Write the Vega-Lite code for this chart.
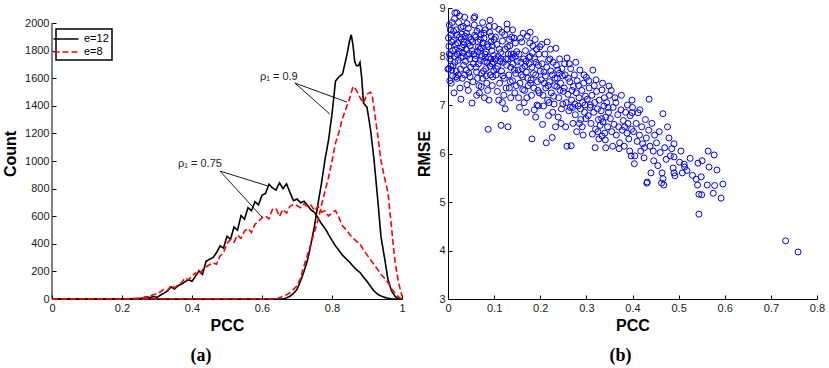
{
"$schema": "https://vega.github.io/schema/vega-lite/v6.json",
"background": "white",
"padding": {"left": 2, "top": 2, "right": 2, "bottom": 2},
"spacing": 10,
"config": {
  "view": {"stroke": null},
  "font": "Liberation Sans",
  "axis": {"grid": false, "domainColor": "#000", "domainWidth": 1, "tickColor": "#000", "tickSize": -4, "labelPadding": 7, "labelFontSize": 11, "labelColor": "#1a1a1a", "labelFont": "Liberation Sans", "titleFont": "Liberation Sans", "titleFontSize": 16, "titleFontWeight": "bold", "titleColor": "#000", "labelFlush": false, "labelOverlap": false},
  "axisY": {"titlePadding": 6},
  "axisX": {"titlePadding": 4},
  "title": {"font": "Liberation Serif", "fontSize": 18, "fontWeight": "bold", "color": "#000", "orient": "bottom", "offset": 14},
  "legend": {"orient": "none", "legendX": 4, "legendY": 21, "title": null, "strokeColor": "#000", "strokeWidth": 1.5, "padding": 3, "symbolType": "M-2,0H2", "symbolSize": 156, "symbolStrokeWidth": 1.5, "labelOffset": 11, "labelFontSize": 11, "labelFont": "Liberation Sans", "labelColor": "#000", "rowPadding": 1}
},
"hconcat": [
{
  "width": 350, "height": 291,
  "title": {"text": "(a)", "dx": -26},
  "encoding": {
    "x": {"field": "pcc", "type": "quantitative", "title": "PCC", "scale": {"domain": [0, 1], "nice": false}, "axis": {"values": [0, 0.2, 0.4, 0.6, 0.8, 1], "format": "~g", "labelOverlap": false}},
    "y": {"field": "count", "type": "quantitative", "title": "Count", "scale": {"domain": [0, 2109], "nice": false}, "axis": {"values": [0, 200, 400, 600, 800, 1000, 1200, 1400, 1600, 1800, 2000], "format": "d", "domain": false, "labelOverlap": false}}
  },
  "layer": [
    {
      "data": {"values": [
{"pcc":0,"count":0,"e":"e=12","rho":"0.75"},{"pcc":0.24,"count":0,"e":"e=12","rho":"0.75"},{"pcc":0.25,"count":3,"e":"e=12","rho":"0.75"},{"pcc":0.26,"count":8,"e":"e=12","rho":"0.75"},{"pcc":0.27,"count":16,"e":"e=12","rho":"0.75"},{"pcc":0.28,"count":10,"e":"e=12","rho":"0.75"},{"pcc":0.29,"count":18,"e":"e=12","rho":"0.75"},{"pcc":0.30,"count":12,"e":"e=12","rho":"0.75"},{"pcc":0.31,"count":28,"e":"e=12","rho":"0.75"},{"pcc":0.32,"count":42,"e":"e=12","rho":"0.75"},{"pcc":0.33,"count":58,"e":"e=12","rho":"0.75"},{"pcc":0.34,"count":88,"e":"e=12","rho":"0.75"},{"pcc":0.35,"count":72,"e":"e=12","rho":"0.75"},{"pcc":0.36,"count":96,"e":"e=12","rho":"0.75"},{"pcc":0.37,"count":108,"e":"e=12","rho":"0.75"},{"pcc":0.38,"count":125,"e":"e=12","rho":"0.75"},{"pcc":0.39,"count":140,"e":"e=12","rho":"0.75"},{"pcc":0.40,"count":128,"e":"e=12","rho":"0.75"},{"pcc":0.41,"count":165,"e":"e=12","rho":"0.75"},{"pcc":0.42,"count":205,"e":"e=12","rho":"0.75"},{"pcc":0.43,"count":178,"e":"e=12","rho":"0.75"},{"pcc":0.44,"count":272,"e":"e=12","rho":"0.75"},{"pcc":0.45,"count":288,"e":"e=12","rho":"0.75"},{"pcc":0.46,"count":300,"e":"e=12","rho":"0.75"},{"pcc":0.47,"count":335,"e":"e=12","rho":"0.75"},{"pcc":0.48,"count":385,"e":"e=12","rho":"0.75"},{"pcc":0.49,"count":368,"e":"e=12","rho":"0.75"},{"pcc":0.50,"count":455,"e":"e=12","rho":"0.75"},{"pcc":0.51,"count":432,"e":"e=12","rho":"0.75"},{"pcc":0.52,"count":522,"e":"e=12","rho":"0.75"},{"pcc":0.53,"count":498,"e":"e=12","rho":"0.75"},{"pcc":0.54,"count":605,"e":"e=12","rho":"0.75"},{"pcc":0.55,"count":578,"e":"e=12","rho":"0.75"},{"pcc":0.56,"count":662,"e":"e=12","rho":"0.75"},{"pcc":0.57,"count":640,"e":"e=12","rho":"0.75"},{"pcc":0.58,"count":705,"e":"e=12","rho":"0.75"},{"pcc":0.59,"count":682,"e":"e=12","rho":"0.75"},{"pcc":0.60,"count":752,"e":"e=12","rho":"0.75"},{"pcc":0.61,"count":765,"e":"e=12","rho":"0.75"},{"pcc":0.62,"count":832,"e":"e=12","rho":"0.75"},{"pcc":0.63,"count":805,"e":"e=12","rho":"0.75"},{"pcc":0.64,"count":790,"e":"e=12","rho":"0.75"},{"pcc":0.65,"count":842,"e":"e=12","rho":"0.75"},{"pcc":0.66,"count":800,"e":"e=12","rho":"0.75"},{"pcc":0.67,"count":835,"e":"e=12","rho":"0.75"},{"pcc":0.68,"count":772,"e":"e=12","rho":"0.75"},{"pcc":0.69,"count":712,"e":"e=12","rho":"0.75"},{"pcc":0.70,"count":725,"e":"e=12","rho":"0.75"},{"pcc":0.71,"count":698,"e":"e=12","rho":"0.75"},{"pcc":0.72,"count":708,"e":"e=12","rho":"0.75"},{"pcc":0.73,"count":680,"e":"e=12","rho":"0.75"},{"pcc":0.74,"count":645,"e":"e=12","rho":"0.75"},{"pcc":0.75,"count":628,"e":"e=12","rho":"0.75"},{"pcc":0.76,"count":588,"e":"e=12","rho":"0.75"},{"pcc":0.77,"count":545,"e":"e=12","rho":"0.75"},{"pcc":0.78,"count":512,"e":"e=12","rho":"0.75"},{"pcc":0.79,"count":468,"e":"e=12","rho":"0.75"},{"pcc":0.80,"count":425,"e":"e=12","rho":"0.75"},{"pcc":0.81,"count":385,"e":"e=12","rho":"0.75"},{"pcc":0.82,"count":352,"e":"e=12","rho":"0.75"},{"pcc":0.83,"count":318,"e":"e=12","rho":"0.75"},{"pcc":0.84,"count":292,"e":"e=12","rho":"0.75"},{"pcc":0.85,"count":268,"e":"e=12","rho":"0.75"},{"pcc":0.86,"count":238,"e":"e=12","rho":"0.75"},{"pcc":0.87,"count":212,"e":"e=12","rho":"0.75"},{"pcc":0.88,"count":192,"e":"e=12","rho":"0.75"},{"pcc":0.89,"count":158,"e":"e=12","rho":"0.75"},{"pcc":0.90,"count":128,"e":"e=12","rho":"0.75"},{"pcc":0.91,"count":92,"e":"e=12","rho":"0.75"},{"pcc":0.92,"count":58,"e":"e=12","rho":"0.75"},{"pcc":0.93,"count":36,"e":"e=12","rho":"0.75"},{"pcc":0.94,"count":22,"e":"e=12","rho":"0.75"},{"pcc":0.95,"count":12,"e":"e=12","rho":"0.75"},{"pcc":0.96,"count":5,"e":"e=12","rho":"0.75"},{"pcc":0.97,"count":0,"e":"e=12","rho":"0.75"},{"pcc":1.0,"count":0,"e":"e=12","rho":"0.75"},
{"pcc":0,"count":0,"e":"e=12","rho":"0.9"},{"pcc":0.66,"count":0,"e":"e=12","rho":"0.9"},{"pcc":0.67,"count":8,"e":"e=12","rho":"0.9"},{"pcc":0.68,"count":20,"e":"e=12","rho":"0.9"},{"pcc":0.69,"count":40,"e":"e=12","rho":"0.9"},{"pcc":0.70,"count":70,"e":"e=12","rho":"0.9"},{"pcc":0.71,"count":130,"e":"e=12","rho":"0.9"},{"pcc":0.72,"count":200,"e":"e=12","rho":"0.9"},{"pcc":0.73,"count":280,"e":"e=12","rho":"0.9"},{"pcc":0.74,"count":400,"e":"e=12","rho":"0.9"},{"pcc":0.75,"count":530,"e":"e=12","rho":"0.9"},{"pcc":0.76,"count":690,"e":"e=12","rho":"0.9"},{"pcc":0.77,"count":840,"e":"e=12","rho":"0.9"},{"pcc":0.78,"count":1010,"e":"e=12","rho":"0.9"},{"pcc":0.79,"count":1150,"e":"e=12","rho":"0.9"},{"pcc":0.80,"count":1340,"e":"e=12","rho":"0.9"},{"pcc":0.81,"count":1580,"e":"e=12","rho":"0.9"},{"pcc":0.82,"count":1610,"e":"e=12","rho":"0.9"},{"pcc":0.83,"count":1630,"e":"e=12","rho":"0.9"},{"pcc":0.84,"count":1740,"e":"e=12","rho":"0.9"},{"pcc":0.845,"count":1800,"e":"e=12","rho":"0.9"},{"pcc":0.85,"count":1870,"e":"e=12","rho":"0.9"},{"pcc":0.855,"count":1915,"e":"e=12","rho":"0.9"},{"pcc":0.86,"count":1840,"e":"e=12","rho":"0.9"},{"pcc":0.865,"count":1720,"e":"e=12","rho":"0.9"},{"pcc":0.87,"count":1690,"e":"e=12","rho":"0.9"},{"pcc":0.875,"count":1690,"e":"e=12","rho":"0.9"},{"pcc":0.88,"count":1715,"e":"e=12","rho":"0.9"},{"pcc":0.885,"count":1600,"e":"e=12","rho":"0.9"},{"pcc":0.89,"count":1420,"e":"e=12","rho":"0.9"},{"pcc":0.90,"count":1390,"e":"e=12","rho":"0.9"},{"pcc":0.91,"count":1230,"e":"e=12","rho":"0.9"},{"pcc":0.92,"count":1010,"e":"e=12","rho":"0.9"},{"pcc":0.93,"count":740,"e":"e=12","rho":"0.9"},{"pcc":0.94,"count":450,"e":"e=12","rho":"0.9"},{"pcc":0.95,"count":300,"e":"e=12","rho":"0.9"},{"pcc":0.96,"count":140,"e":"e=12","rho":"0.9"},{"pcc":0.97,"count":60,"e":"e=12","rho":"0.9"},{"pcc":0.98,"count":20,"e":"e=12","rho":"0.9"},{"pcc":0.99,"count":0,"e":"e=12","rho":"0.9"},{"pcc":1.0,"count":0,"e":"e=12","rho":"0.9"},
{"pcc":0,"count":0,"e":"e=8","rho":"0.75"},{"pcc":0.20,"count":0,"e":"e=8","rho":"0.75"},{"pcc":0.22,"count":3,"e":"e=8","rho":"0.75"},{"pcc":0.23,"count":6,"e":"e=8","rho":"0.75"},{"pcc":0.24,"count":4,"e":"e=8","rho":"0.75"},{"pcc":0.25,"count":10,"e":"e=8","rho":"0.75"},{"pcc":0.26,"count":8,"e":"e=8","rho":"0.75"},{"pcc":0.27,"count":16,"e":"e=8","rho":"0.75"},{"pcc":0.28,"count":22,"e":"e=8","rho":"0.75"},{"pcc":0.29,"count":30,"e":"e=8","rho":"0.75"},{"pcc":0.30,"count":38,"e":"e=8","rho":"0.75"},{"pcc":0.31,"count":52,"e":"e=8","rho":"0.75"},{"pcc":0.32,"count":72,"e":"e=8","rho":"0.75"},{"pcc":0.33,"count":62,"e":"e=8","rho":"0.75"},{"pcc":0.34,"count":98,"e":"e=8","rho":"0.75"},{"pcc":0.35,"count":82,"e":"e=8","rho":"0.75"},{"pcc":0.36,"count":102,"e":"e=8","rho":"0.75"},{"pcc":0.37,"count":118,"e":"e=8","rho":"0.75"},{"pcc":0.38,"count":152,"e":"e=8","rho":"0.75"},{"pcc":0.39,"count":140,"e":"e=8","rho":"0.75"},{"pcc":0.40,"count":168,"e":"e=8","rho":"0.75"},{"pcc":0.41,"count":188,"e":"e=8","rho":"0.75"},{"pcc":0.42,"count":172,"e":"e=8","rho":"0.75"},{"pcc":0.43,"count":212,"e":"e=8","rho":"0.75"},{"pcc":0.44,"count":232,"e":"e=8","rho":"0.75"},{"pcc":0.45,"count":248,"e":"e=8","rho":"0.75"},{"pcc":0.46,"count":262,"e":"e=8","rho":"0.75"},{"pcc":0.47,"count":252,"e":"e=8","rho":"0.75"},{"pcc":0.48,"count":312,"e":"e=8","rho":"0.75"},{"pcc":0.49,"count":335,"e":"e=8","rho":"0.75"},{"pcc":0.50,"count":402,"e":"e=8","rho":"0.75"},{"pcc":0.51,"count":432,"e":"e=8","rho":"0.75"},{"pcc":0.52,"count":412,"e":"e=8","rho":"0.75"},{"pcc":0.53,"count":462,"e":"e=8","rho":"0.75"},{"pcc":0.54,"count":440,"e":"e=8","rho":"0.75"},{"pcc":0.55,"count":492,"e":"e=8","rho":"0.75"},{"pcc":0.56,"count":512,"e":"e=8","rho":"0.75"},{"pcc":0.57,"count":482,"e":"e=8","rho":"0.75"},{"pcc":0.58,"count":542,"e":"e=8","rho":"0.75"},{"pcc":0.59,"count":562,"e":"e=8","rho":"0.75"},{"pcc":0.60,"count":590,"e":"e=8","rho":"0.75"},{"pcc":0.61,"count":602,"e":"e=8","rho":"0.75"},{"pcc":0.62,"count":580,"e":"e=8","rho":"0.75"},{"pcc":0.63,"count":650,"e":"e=8","rho":"0.75"},{"pcc":0.64,"count":655,"e":"e=8","rho":"0.75"},{"pcc":0.65,"count":598,"e":"e=8","rho":"0.75"},{"pcc":0.66,"count":650,"e":"e=8","rho":"0.75"},{"pcc":0.67,"count":622,"e":"e=8","rho":"0.75"},{"pcc":0.68,"count":672,"e":"e=8","rho":"0.75"},{"pcc":0.69,"count":685,"e":"e=8","rho":"0.75"},{"pcc":0.70,"count":678,"e":"e=8","rho":"0.75"},{"pcc":0.71,"count":662,"e":"e=8","rho":"0.75"},{"pcc":0.72,"count":690,"e":"e=8","rho":"0.75"},{"pcc":0.73,"count":668,"e":"e=8","rho":"0.75"},{"pcc":0.74,"count":680,"e":"e=8","rho":"0.75"},{"pcc":0.75,"count":640,"e":"e=8","rho":"0.75"},{"pcc":0.76,"count":672,"e":"e=8","rho":"0.75"},{"pcc":0.77,"count":630,"e":"e=8","rho":"0.75"},{"pcc":0.78,"count":638,"e":"e=8","rho":"0.75"},{"pcc":0.79,"count":602,"e":"e=8","rho":"0.75"},{"pcc":0.80,"count":625,"e":"e=8","rho":"0.75"},{"pcc":0.81,"count":640,"e":"e=8","rho":"0.75"},{"pcc":0.82,"count":590,"e":"e=8","rho":"0.75"},{"pcc":0.83,"count":530,"e":"e=8","rho":"0.75"},{"pcc":0.84,"count":505,"e":"e=8","rho":"0.75"},{"pcc":0.85,"count":470,"e":"e=8","rho":"0.75"},{"pcc":0.86,"count":440,"e":"e=8","rho":"0.75"},{"pcc":0.87,"count":418,"e":"e=8","rho":"0.75"},{"pcc":0.88,"count":400,"e":"e=8","rho":"0.75"},{"pcc":0.89,"count":355,"e":"e=8","rho":"0.75"},{"pcc":0.90,"count":320,"e":"e=8","rho":"0.75"},{"pcc":0.91,"count":285,"e":"e=8","rho":"0.75"},{"pcc":0.92,"count":250,"e":"e=8","rho":"0.75"},{"pcc":0.93,"count":215,"e":"e=8","rho":"0.75"},{"pcc":0.94,"count":180,"e":"e=8","rho":"0.75"},{"pcc":0.95,"count":150,"e":"e=8","rho":"0.75"},{"pcc":0.96,"count":120,"e":"e=8","rho":"0.75"},{"pcc":0.97,"count":75,"e":"e=8","rho":"0.75"},{"pcc":0.98,"count":40,"e":"e=8","rho":"0.75"},{"pcc":0.99,"count":15,"e":"e=8","rho":"0.75"},{"pcc":1.0,"count":0,"e":"e=8","rho":"0.75"},
{"pcc":0,"count":0,"e":"e=8","rho":"0.9"},{"pcc":0.64,"count":0,"e":"e=8","rho":"0.9"},{"pcc":0.65,"count":10,"e":"e=8","rho":"0.9"},{"pcc":0.66,"count":20,"e":"e=8","rho":"0.9"},{"pcc":0.67,"count":30,"e":"e=8","rho":"0.9"},{"pcc":0.68,"count":45,"e":"e=8","rho":"0.9"},{"pcc":0.69,"count":70,"e":"e=8","rho":"0.9"},{"pcc":0.70,"count":95,"e":"e=8","rho":"0.9"},{"pcc":0.71,"count":150,"e":"e=8","rho":"0.9"},{"pcc":0.72,"count":240,"e":"e=8","rho":"0.9"},{"pcc":0.73,"count":320,"e":"e=8","rho":"0.9"},{"pcc":0.74,"count":400,"e":"e=8","rho":"0.9"},{"pcc":0.75,"count":490,"e":"e=8","rho":"0.9"},{"pcc":0.76,"count":570,"e":"e=8","rho":"0.9"},{"pcc":0.77,"count":680,"e":"e=8","rho":"0.9"},{"pcc":0.78,"count":780,"e":"e=8","rho":"0.9"},{"pcc":0.79,"count":880,"e":"e=8","rho":"0.9"},{"pcc":0.80,"count":1000,"e":"e=8","rho":"0.9"},{"pcc":0.81,"count":1130,"e":"e=8","rho":"0.9"},{"pcc":0.82,"count":1210,"e":"e=8","rho":"0.9"},{"pcc":0.83,"count":1310,"e":"e=8","rho":"0.9"},{"pcc":0.84,"count":1380,"e":"e=8","rho":"0.9"},{"pcc":0.85,"count":1450,"e":"e=8","rho":"0.9"},{"pcc":0.86,"count":1540,"e":"e=8","rho":"0.9"},{"pcc":0.865,"count":1530,"e":"e=8","rho":"0.9"},{"pcc":0.87,"count":1510,"e":"e=8","rho":"0.9"},{"pcc":0.88,"count":1460,"e":"e=8","rho":"0.9"},{"pcc":0.89,"count":1420,"e":"e=8","rho":"0.9"},{"pcc":0.90,"count":1485,"e":"e=8","rho":"0.9"},{"pcc":0.91,"count":1500,"e":"e=8","rho":"0.9"},{"pcc":0.915,"count":1470,"e":"e=8","rho":"0.9"},{"pcc":0.92,"count":1380,"e":"e=8","rho":"0.9"},{"pcc":0.93,"count":1200,"e":"e=8","rho":"0.9"},{"pcc":0.94,"count":1000,"e":"e=8","rho":"0.9"},{"pcc":0.95,"count":880,"e":"e=8","rho":"0.9"},{"pcc":0.96,"count":770,"e":"e=8","rho":"0.9"},{"pcc":0.97,"count":520,"e":"e=8","rho":"0.9"},{"pcc":0.98,"count":270,"e":"e=8","rho":"0.9"},{"pcc":0.99,"count":120,"e":"e=8","rho":"0.9"},{"pcc":1.0,"count":20,"e":"e=8","rho":"0.9"}
      ]},
      "mark": {"type": "line", "strokeWidth": 1.6, "strokeCap": "butt"},
      "encoding": {
        "color": {"field": "e", "type": "nominal", "scale": {"domain": ["e=12", "e=8"], "range": ["#000000", "#ff0000"]}},
        "strokeDash": {"field": "e", "type": "nominal", "scale": {"domain": ["e=12", "e=8"], "range": [[1, 0], [6, 3]]}},
        "detail": {"field": "rho"}
      }
    },
    {
      "data": {"values": [{"pcc": 0, "count": 0, "count2": 2000}]},
      "mark": {"type": "rule", "color": "#000", "strokeWidth": 1},
      "encoding": {
        "y2": {"field": "count2"}
      }
    },
    {
      "data": {"values": [
        {"pcc": 0.694, "count": 1565, "pcc2": 0.843, "count2": 1427},
        {"pcc": 0.694, "count": 1565, "pcc2": 0.794, "count2": 1340},
        {"pcc": 0.48, "count": 927, "pcc2": 0.617, "count2": 819},
        {"pcc": 0.48, "count": 927, "pcc2": 0.60, "count2": 594}
      ]},
      "mark": {"type": "rule", "color": "#000", "strokeWidth": 0.9},
      "encoding": {
        "x2": {"field": "pcc2"},
        "y2": {"field": "count2"}
      }
    },
    {
      "data": {"values": [
        {"pcc": 0.594, "count": 1590, "label": "ρ₁ = 0.9"},
        {"pcc": 0.36, "count": 960, "label": "ρ₁ = 0.75"}
      ]},
      "mark": {"type": "text", "align": "left", "baseline": "alphabetic", "fontSize": 11, "font": "Liberation Sans", "color": "#222"},
      "encoding": {
        "text": {"field": "label"}
      }
    }
  ]
},
{
  "width": 369, "height": 291,
  "title": {"text": "(b)", "dx": -12},
  "data": {"values": [
{"pcc":0.002,"rmse":8.21},{"pcc":0.004,"rmse":7.95},{"pcc":0.006,"rmse":8.45},{"pcc":0.003,"rmse":8.65},{"pcc":0.008,"rmse":7.72},{"pcc":0.010,"rmse":8.12},{"pcc":0.012,"rmse":8.33},{"pcc":0.005,"rmse":8.02},{"pcc":0.015,"rmse":7.88},{"pcc":0.018,"rmse":8.55},{"pcc":0.014,"rmse":8.78},{"pcc":0.020,"rmse":8.05},{"pcc":0.022,"rmse":7.62},{"pcc":0.016,"rmse":8.25},{"pcc":0.025,"rmse":8.40},{"pcc":0.028,"rmse":7.98},{"pcc":0.007,"rmse":7.45},{"pcc":0.011,"rmse":7.81},{"pcc":0.030,"rmse":8.18},{"pcc":0.033,"rmse":8.62},{"pcc":0.001,"rmse":8.38},{"pcc":0.019,"rmse":8.90},{"pcc":0.024,"rmse":8.11},{"pcc":0.027,"rmse":7.74},{"pcc":0.035,"rmse":8.30},{"pcc":0.038,"rmse":7.90},{"pcc":0.040,"rmse":8.48},{"pcc":0.042,"rmse":8.02},{"pcc":0.045,"rmse":7.66},{"pcc":0.048,"rmse":8.22},{"pcc":0.036,"rmse":8.81},{"pcc":0.031,"rmse":7.55},{"pcc":0.013,"rmse":7.25},{"pcc":0.009,"rmse":8.70},{"pcc":0.017,"rmse":7.58},{"pcc":0.023,"rmse":8.70},{"pcc":0.029,"rmse":8.36},{"pcc":0.034,"rmse":7.82},{"pcc":0.044,"rmse":8.58},{"pcc":0.047,"rmse":7.95},{"pcc":0.050,"rmse":8.35},{"pcc":0.041,"rmse":7.42},{"pcc":0.039,"rmse":8.15},{"pcc":0.026,"rmse":7.35},{"pcc":0.021,"rmse":8.28},{"pcc":0.006,"rmse":7.80},{"pcc":0.003,"rmse":8.05},{"pcc":0.012,"rmse":8.52},{"pcc":0.018,"rmse":7.70},{"pcc":0.032,"rmse":8.08},{"pcc":0.043,"rmse":8.27},{"pcc":0.049,"rmse":7.78},{"pcc":0.037,"rmse":8.42},{"pcc":0.028,"rmse":8.60},{"pcc":0.016,"rmse":8.14},{"pcc":0.008,"rmse":8.30},{"pcc":0.002,"rmse":7.75},{"pcc":0.046,"rmse":8.06},{"pcc":0.034,"rmse":8.24},{"pcc":0.022,"rmse":7.92},{"pcc":0.014,"rmse":8.00},{"pcc":0.010,"rmse":7.60},{"pcc":0.025,"rmse":8.84},{"pcc":0.040,"rmse":7.72},{"pcc":0.030,"rmse":8.46},{"pcc":0.045,"rmse":8.40},{"pcc":0.048,"rmse":7.58},{"pcc":0.005,"rmse":8.55},{"pcc":0.020,"rmse":8.45},{"pcc":0.036,"rmse":7.62},{"pcc":0.028,"rmse":7.12},{"pcc":0.052,"rmse":7.04},{"pcc":0.000,"rmse":7.74},{"pcc":0.020,"rmse":7.55},{"pcc":0.056,"rmse":8.79},{"pcc":0.015,"rmse":8.90},{"pcc":0.044,"rmse":7.30},{"pcc":0.004,"rmse":7.50},{"pcc":0.033,"rmse":8.00},{"pcc":0.041,"rmse":8.68},
{"pcc":0.052,"rmse":8.12},{"pcc":0.055,"rmse":7.85},{"pcc":0.058,"rmse":8.44},{"pcc":0.060,"rmse":8.02},{"pcc":0.062,"rmse":7.68},{"pcc":0.065,"rmse":8.30},{"pcc":0.068,"rmse":8.58},{"pcc":0.070,"rmse":7.92},{"pcc":0.072,"rmse":8.18},{"pcc":0.075,"rmse":7.55},{"pcc":0.078,"rmse":8.38},{"pcc":0.080,"rmse":8.05},{"pcc":0.082,"rmse":7.75},{"pcc":0.085,"rmse":8.25},{"pcc":0.088,"rmse":7.98},{"pcc":0.090,"rmse":8.50},{"pcc":0.092,"rmse":7.62},{"pcc":0.095,"rmse":8.12},{"pcc":0.098,"rmse":7.88},{"pcc":0.100,"rmse":8.35},{"pcc":0.054,"rmse":7.48},{"pcc":0.057,"rmse":8.65},{"pcc":0.061,"rmse":7.78},{"pcc":0.064,"rmse":8.10},{"pcc":0.067,"rmse":7.40},{"pcc":0.071,"rmse":8.45},{"pcc":0.074,"rmse":8.00},{"pcc":0.077,"rmse":7.70},{"pcc":0.081,"rmse":8.55},{"pcc":0.084,"rmse":7.45},{"pcc":0.087,"rmse":8.20},{"pcc":0.091,"rmse":7.80},{"pcc":0.094,"rmse":8.42},{"pcc":0.097,"rmse":7.58},{"pcc":0.099,"rmse":8.02},{"pcc":0.053,"rmse":8.30},{"pcc":0.059,"rmse":7.95},{"pcc":0.063,"rmse":8.52},{"pcc":0.066,"rmse":7.85},{"pcc":0.069,"rmse":8.15},{"pcc":0.073,"rmse":7.65},{"pcc":0.076,"rmse":8.28},{"pcc":0.079,"rmse":7.90},{"pcc":0.083,"rmse":8.10},{"pcc":0.086,"rmse":7.30},{"pcc":0.089,"rmse":8.62},{"pcc":0.093,"rmse":7.95},{"pcc":0.096,"rmse":8.22},{"pcc":0.087,"rmse":6.50},{"pcc":0.079,"rmse":7.15},{"pcc":0.068,"rmse":7.25},{"pcc":0.058,"rmse":8.82},{"pcc":0.091,"rmse":8.75},{"pcc":0.062,"rmse":7.20},{"pcc":0.075,"rmse":8.70},{"pcc":0.083,"rmse":7.60},{"pcc":0.096,"rmse":7.40},{"pcc":0.056,"rmse":8.05},{"pcc":0.070,"rmse":8.35},{"pcc":0.085,"rmse":7.88},{"pcc":0.099,"rmse":7.70},{"pcc":0.064,"rmse":7.55},{"pcc":0.078,"rmse":8.48},{"pcc":0.093,"rmse":8.30},{"pcc":0.072,"rmse":7.38},{"pcc":0.089,"rmse":7.10},{"pcc":0.060,"rmse":8.40},{"pcc":0.081,"rmse":7.98},{"pcc":0.066,"rmse":8.20},{"pcc":0.095,"rmse":7.85},
{"pcc":0.102,"rmse":7.95},{"pcc":0.104,"rmse":7.62},{"pcc":0.106,"rmse":8.25},{"pcc":0.108,"rmse":7.80},{"pcc":0.110,"rmse":8.56},{"pcc":0.112,"rmse":7.45},{"pcc":0.114,"rmse":8.08},{"pcc":0.116,"rmse":7.70},{"pcc":0.118,"rmse":8.32},{"pcc":0.120,"rmse":7.88},{"pcc":0.122,"rmse":7.55},{"pcc":0.124,"rmse":8.15},{"pcc":0.126,"rmse":7.35},{"pcc":0.128,"rmse":8.67},{"pcc":0.130,"rmse":7.95},{"pcc":0.132,"rmse":7.62},{"pcc":0.134,"rmse":8.22},{"pcc":0.136,"rmse":7.78},{"pcc":0.138,"rmse":8.40},{"pcc":0.140,"rmse":7.50},{"pcc":0.142,"rmse":8.05},{"pcc":0.144,"rmse":7.72},{"pcc":0.146,"rmse":8.28},{"pcc":0.148,"rmse":7.40},{"pcc":0.150,"rmse":7.90},{"pcc":0.103,"rmse":8.40},{"pcc":0.107,"rmse":7.28},{"pcc":0.111,"rmse":8.15},{"pcc":0.115,"rmse":7.95},{"pcc":0.119,"rmse":7.60},{"pcc":0.123,"rmse":8.45},{"pcc":0.127,"rmse":7.82},{"pcc":0.131,"rmse":8.05},{"pcc":0.135,"rmse":7.48},{"pcc":0.139,"rmse":7.98},{"pcc":0.143,"rmse":8.38},{"pcc":0.147,"rmse":7.65},{"pcc":0.105,"rmse":7.75},{"pcc":0.109,"rmse":8.00},{"pcc":0.113,"rmse":7.90},{"pcc":0.117,"rmse":8.50},{"pcc":0.121,"rmse":7.20},{"pcc":0.125,"rmse":7.95},{"pcc":0.129,"rmse":8.20},{"pcc":0.133,"rmse":7.35},{"pcc":0.137,"rmse":8.05},{"pcc":0.141,"rmse":7.85},{"pcc":0.145,"rmse":7.25},{"pcc":0.149,"rmse":8.10},{"pcc":0.115,"rmse":6.58},{"pcc":0.130,"rmse":6.55},{"pcc":0.118,"rmse":7.05},{"pcc":0.128,"rmse":8.56},{"pcc":0.110,"rmse":7.10},{"pcc":0.140,"rmse":8.55},{"pcc":0.124,"rmse":6.92},{"pcc":0.136,"rmse":7.15},{"pcc":0.146,"rmse":8.00},{"pcc":0.101,"rmse":8.62},{"pcc":0.133,"rmse":8.35},
{"pcc":0.152,"rmse":7.72},{"pcc":0.154,"rmse":8.05},{"pcc":0.156,"rmse":7.45},{"pcc":0.158,"rmse":7.88},{"pcc":0.160,"rmse":8.30},{"pcc":0.162,"rmse":7.58},{"pcc":0.164,"rmse":7.95},{"pcc":0.166,"rmse":7.30},{"pcc":0.168,"rmse":8.12},{"pcc":0.170,"rmse":7.68},{"pcc":0.172,"rmse":8.42},{"pcc":0.174,"rmse":7.40},{"pcc":0.176,"rmse":7.85},{"pcc":0.178,"rmse":8.00},{"pcc":0.180,"rmse":7.52},{"pcc":0.182,"rmse":7.78},{"pcc":0.184,"rmse":8.22},{"pcc":0.186,"rmse":7.35},{"pcc":0.188,"rmse":7.95},{"pcc":0.190,"rmse":7.62},{"pcc":0.192,"rmse":8.15},{"pcc":0.194,"rmse":7.48},{"pcc":0.196,"rmse":7.82},{"pcc":0.198,"rmse":7.25},{"pcc":0.200,"rmse":7.70},{"pcc":0.153,"rmse":7.15},{"pcc":0.157,"rmse":8.38},{"pcc":0.161,"rmse":7.75},{"pcc":0.165,"rmse":7.05},{"pcc":0.169,"rmse":7.90},{"pcc":0.173,"rmse":7.55},{"pcc":0.177,"rmse":8.28},{"pcc":0.181,"rmse":7.20},{"pcc":0.185,"rmse":7.65},{"pcc":0.189,"rmse":8.35},{"pcc":0.193,"rmse":7.00},{"pcc":0.197,"rmse":8.05},{"pcc":0.159,"rmse":7.62},{"pcc":0.163,"rmse":8.48},{"pcc":0.167,"rmse":7.80},{"pcc":0.171,"rmse":7.15},{"pcc":0.175,"rmse":7.98},{"pcc":0.179,"rmse":7.45},{"pcc":0.183,"rmse":8.08},{"pcc":0.187,"rmse":6.90},{"pcc":0.191,"rmse":7.88},{"pcc":0.195,"rmse":7.30},{"pcc":0.199,"rmse":8.20},{"pcc":0.182,"rmse":6.30},{"pcc":0.155,"rmse":6.95},{"pcc":0.170,"rmse":6.85},{"pcc":0.190,"rmse":6.75},{"pcc":0.162,"rmse":7.32},{"pcc":0.178,"rmse":8.50},{"pcc":0.196,"rmse":6.98},
{"pcc":0.202,"rmse":7.52},{"pcc":0.204,"rmse":7.85},{"pcc":0.206,"rmse":7.20},{"pcc":0.208,"rmse":7.68},{"pcc":0.210,"rmse":8.05},{"pcc":0.212,"rmse":7.35},{"pcc":0.214,"rmse":7.78},{"pcc":0.216,"rmse":7.10},{"pcc":0.218,"rmse":7.92},{"pcc":0.220,"rmse":7.48},{"pcc":0.222,"rmse":8.15},{"pcc":0.224,"rmse":7.25},{"pcc":0.226,"rmse":7.62},{"pcc":0.228,"rmse":7.88},{"pcc":0.230,"rmse":7.02},{"pcc":0.232,"rmse":7.55},{"pcc":0.234,"rmse":8.17},{"pcc":0.236,"rmse":7.38},{"pcc":0.238,"rmse":7.72},{"pcc":0.240,"rmse":7.15},{"pcc":0.242,"rmse":7.95},{"pcc":0.244,"rmse":7.45},{"pcc":0.246,"rmse":6.92},{"pcc":0.248,"rmse":7.60},{"pcc":0.250,"rmse":7.28},{"pcc":0.203,"rmse":8.25},{"pcc":0.207,"rmse":6.98},{"pcc":0.211,"rmse":7.60},{"pcc":0.215,"rmse":8.30},{"pcc":0.219,"rmse":7.05},{"pcc":0.223,"rmse":7.70},{"pcc":0.227,"rmse":6.85},{"pcc":0.231,"rmse":7.40},{"pcc":0.235,"rmse":7.82},{"pcc":0.239,"rmse":6.75},{"pcc":0.243,"rmse":7.30},{"pcc":0.247,"rmse":7.75},{"pcc":0.213,"rmse":6.22},{"pcc":0.226,"rmse":6.33},{"pcc":0.205,"rmse":6.60},{"pcc":0.218,"rmse":6.78},{"pcc":0.233,"rmse":6.55},{"pcc":0.245,"rmse":6.62},{"pcc":0.209,"rmse":7.45},{"pcc":0.221,"rmse":7.95},{"pcc":0.229,"rmse":7.18},{"pcc":0.237,"rmse":7.55},{"pcc":0.241,"rmse":7.65},{"pcc":0.249,"rmse":7.02},{"pcc":0.217,"rmse":7.40},
{"pcc":0.252,"rmse":7.35},{"pcc":0.254,"rmse":7.62},{"pcc":0.256,"rmse":7.05},{"pcc":0.258,"rmse":7.97},{"pcc":0.260,"rmse":7.22},{"pcc":0.262,"rmse":6.88},{"pcc":0.264,"rmse":7.48},{"pcc":0.266,"rmse":7.75},{"pcc":0.268,"rmse":7.10},{"pcc":0.270,"rmse":6.95},{"pcc":0.272,"rmse":7.38},{"pcc":0.274,"rmse":7.62},{"pcc":0.276,"rmse":6.80},{"pcc":0.278,"rmse":7.25},{"pcc":0.280,"rmse":7.50},{"pcc":0.282,"rmse":6.98},{"pcc":0.284,"rmse":7.15},{"pcc":0.286,"rmse":7.72},{"pcc":0.288,"rmse":6.70},{"pcc":0.290,"rmse":7.30},{"pcc":0.292,"rmse":7.05},{"pcc":0.294,"rmse":7.45},{"pcc":0.296,"rmse":6.85},{"pcc":0.298,"rmse":7.18},{"pcc":0.300,"rmse":7.57},{"pcc":0.255,"rmse":6.55},{"pcc":0.258,"rmse":6.15},{"pcc":0.267,"rmse":6.16},{"pcc":0.263,"rmse":7.85},{"pcc":0.271,"rmse":6.62},{"pcc":0.275,"rmse":7.02},{"pcc":0.279,"rmse":6.45},{"pcc":0.283,"rmse":7.40},{"pcc":0.287,"rmse":6.92},{"pcc":0.291,"rmse":6.55},{"pcc":0.295,"rmse":7.62},{"pcc":0.299,"rmse":6.72},{"pcc":0.253,"rmse":7.85},{"pcc":0.261,"rmse":7.55},{"pcc":0.269,"rmse":7.30},{"pcc":0.277,"rmse":7.88},{"pcc":0.285,"rmse":6.62},{"pcc":0.293,"rmse":6.38},{"pcc":0.297,"rmse":7.00},{"pcc":0.265,"rmse":6.95},
{"pcc":0.302,"rmse":7.12},{"pcc":0.304,"rmse":6.78},{"pcc":0.306,"rmse":7.35},{"pcc":0.308,"rmse":6.95},{"pcc":0.310,"rmse":6.62},{"pcc":0.312,"rmse":7.20},{"pcc":0.314,"rmse":7.72},{"pcc":0.316,"rmse":6.85},{"pcc":0.318,"rmse":7.05},{"pcc":0.320,"rmse":6.50},{"pcc":0.322,"rmse":7.28},{"pcc":0.324,"rmse":6.92},{"pcc":0.326,"rmse":6.70},{"pcc":0.328,"rmse":7.10},{"pcc":0.330,"rmse":6.58},{"pcc":0.332,"rmse":6.88},{"pcc":0.334,"rmse":7.31},{"pcc":0.336,"rmse":6.65},{"pcc":0.338,"rmse":6.98},{"pcc":0.340,"rmse":6.42},{"pcc":0.342,"rmse":6.75},{"pcc":0.344,"rmse":7.05},{"pcc":0.346,"rmse":6.55},{"pcc":0.348,"rmse":6.85},{"pcc":0.350,"rmse":7.20},{"pcc":0.319,"rmse":6.12},{"pcc":0.342,"rmse":6.12},{"pcc":0.334,"rmse":6.36},{"pcc":0.305,"rmse":7.50},{"pcc":0.313,"rmse":6.40},{"pcc":0.321,"rmse":7.52},{"pcc":0.327,"rmse":6.30},{"pcc":0.335,"rmse":7.45},{"pcc":0.341,"rmse":6.28},{"pcc":0.347,"rmse":6.95},{"pcc":0.309,"rmse":7.00},{"pcc":0.317,"rmse":7.40},{"pcc":0.325,"rmse":6.45},{"pcc":0.333,"rmse":6.72},{"pcc":0.339,"rmse":7.15},
{"pcc":0.352,"rmse":6.72},{"pcc":0.355,"rmse":6.45},{"pcc":0.358,"rmse":6.95},{"pcc":0.360,"rmse":6.60},{"pcc":0.362,"rmse":7.15},{"pcc":0.365,"rmse":6.38},{"pcc":0.368,"rmse":6.80},{"pcc":0.370,"rmse":6.55},{"pcc":0.372,"rmse":6.22},{"pcc":0.375,"rmse":6.90},{"pcc":0.378,"rmse":6.48},{"pcc":0.380,"rmse":6.68},{"pcc":0.382,"rmse":6.15},{"pcc":0.385,"rmse":6.85},{"pcc":0.388,"rmse":6.42},{"pcc":0.390,"rmse":6.62},{"pcc":0.392,"rmse":6.30},{"pcc":0.395,"rmse":6.78},{"pcc":0.398,"rmse":6.50},{"pcc":0.400,"rmse":6.95},{"pcc":0.354,"rmse":7.30},{"pcc":0.349,"rmse":7.39},{"pcc":0.357,"rmse":6.15},{"pcc":0.364,"rmse":7.05},{"pcc":0.371,"rmse":6.10},{"pcc":0.376,"rmse":7.20},{"pcc":0.383,"rmse":6.55},{"pcc":0.389,"rmse":7.00},{"pcc":0.394,"rmse":6.05},{"pcc":0.399,"rmse":7.10},{"pcc":0.399,"rmse":6.84},{"pcc":0.397,"rmse":5.95},
{"pcc":0.402,"rmse":6.45},{"pcc":0.405,"rmse":5.95},{"pcc":0.408,"rmse":6.62},{"pcc":0.410,"rmse":6.25},{"pcc":0.412,"rmse":6.84},{"pcc":0.415,"rmse":6.38},{"pcc":0.418,"rmse":6.05},{"pcc":0.420,"rmse":6.55},{"pcc":0.422,"rmse":6.20},{"pcc":0.425,"rmse":5.91},{"pcc":0.428,"rmse":6.70},{"pcc":0.430,"rmse":6.32},{"pcc":0.432,"rmse":5.41},{"pcc":0.431,"rmse":5.39},{"pcc":0.435,"rmse":6.48},{"pcc":0.436,"rmse":7.12},{"pcc":0.438,"rmse":6.15},{"pcc":0.440,"rmse":5.60},{"pcc":0.442,"rmse":6.62},{"pcc":0.445,"rmse":6.05},{"pcc":0.448,"rmse":6.38},{"pcc":0.404,"rmse":5.79},{"pcc":0.416,"rmse":6.90},{"pcc":0.426,"rmse":6.12},{"pcc":0.446,"rmse":5.85},
{"pcc":0.452,"rmse":6.22},{"pcc":0.455,"rmse":5.75},{"pcc":0.458,"rmse":6.45},{"pcc":0.460,"rmse":6.02},{"pcc":0.463,"rmse":5.39},{"pcc":0.464,"rmse":5.60},{"pcc":0.466,"rmse":6.82},{"pcc":0.466,"rmse":5.48},{"pcc":0.468,"rmse":5.35},{"pcc":0.470,"rmse":6.12},{"pcc":0.473,"rmse":5.88},{"pcc":0.476,"rmse":6.55},{"pcc":0.479,"rmse":6.32},{"pcc":0.482,"rmse":5.95},{"pcc":0.485,"rmse":6.10},{"pcc":0.488,"rmse":5.70},{"pcc":0.490,"rmse":6.20},{"pcc":0.490,"rmse":5.93},{"pcc":0.490,"rmse":5.60},{"pcc":0.492,"rmse":5.54},
{"pcc":0.502,"rmse":5.82},{"pcc":0.505,"rmse":6.05},{"pcc":0.512,"rmse":5.78},{"pcc":0.513,"rmse":5.72},{"pcc":0.518,"rmse":5.65},{"pcc":0.525,"rmse":5.90},{"pcc":0.530,"rmse":5.55},{"pcc":0.538,"rmse":5.47},{"pcc":0.541,"rmse":5.35},{"pcc":0.542,"rmse":5.80},{"pcc":0.544,"rmse":5.16},{"pcc":0.544,"rmse":4.75},{"pcc":0.549,"rmse":5.52},{"pcc":0.550,"rmse":5.15},{"pcc":0.551,"rmse":5.85},{"pcc":0.562,"rmse":5.35},{"pcc":0.564,"rmse":6.05},{"pcc":0.566,"rmse":5.72},{"pcc":0.575,"rmse":5.18},{"pcc":0.577,"rmse":5.97},{"pcc":0.578,"rmse":5.34},{"pcc":0.583,"rmse":5.66},{"pcc":0.592,"rmse":5.08},{"pcc":0.596,"rmse":5.37},{"pcc":0.508,"rmse":5.60},
{"pcc":0.732,"rmse":4.20},{"pcc":0.759,"rmse":3.97}
  ]},
  "mark": {"type": "point", "shape": "circle", "filled": false, "color": "#0000ff", "size": 36, "strokeWidth": 1, "opacity": 1},
  "encoding": {
    "x": {"field": "pcc", "type": "quantitative", "title": "PCC", "scale": {"domain": [0, 0.8], "nice": false}, "axis": {"values": [0, 0.1, 0.2, 0.3, 0.4, 0.5, 0.6, 0.7, 0.8], "format": "~g", "labelOverlap": false}},
    "y": {"field": "rmse", "type": "quantitative", "title": "RMSE", "scale": {"domain": [3, 9], "nice": false, "zero": false}, "axis": {"values": [3, 4, 5, 6, 7, 8, 9], "format": "d", "labelOverlap": false}}
  }
}
]
}
